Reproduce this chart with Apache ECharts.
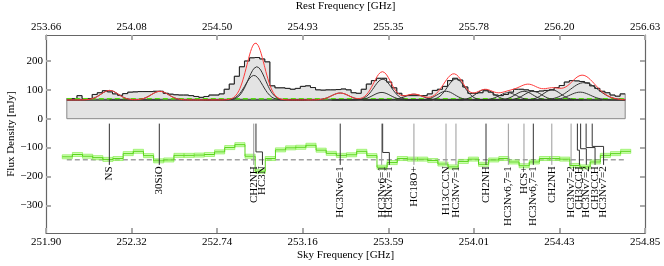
<!DOCTYPE html>
<html><head><meta charset="utf-8">
<script src="https://cdn.jsdelivr.net/npm/echarts@6/dist/echarts.min.js"></script>
<style>html,body{margin:0;padding:0;background:#fff}#c{width:664px;height:266px}</style>
</head><body><div id="c"></div>
<script>
// ---------- data ----------
const skyTicks = [251.9, 252.3214, 252.7429, 253.1643, 253.5857, 254.0071, 254.4286, 254.85];
const restTickLabels = ['253.66','254.08','254.50','254.93','255.35','255.78','256.20','256.63'];
const fluxTicks = [-300, -200, -100, 0, 100, 200];

// observed spectrum (step histogram), sky frequency bins
const specStart = 252.0025;
const specStep = 0.025;
const specValues = [70,70,80,70,70,84,90,97,93,86,
  81,87,92,93,94,94,94,95,95,88,
  85,83,82,82,80,77,74,77,82,82,
  86,102,120,147,180,200,211,212,207,197,
  114,107,107,105,102,105,112,114,108,100,
  99,100,100,101,103,100,90,88,102,120,
  132,140,140,127,107,88,80,80,80,80,
  80,86,98,102,112,132,140,134,110,88,
  88,90,97,92,82,80,84,92,102,102,
  100,97,94,96,98,100,108,115,127,132,
  131,129,124,114,105,95,90,82,78,86];
const continuum = 65;
const greenLevel = 69;

// gaussian components of the fit
const compCenter = [252.213,252.461,252.924,252.938,253.349,253.553,253.558,253.712,253.870,253.919,254.062,254.175,254.254,254.298,254.392,254.550,254.530];
const compAmp    = [33,30,85,115,24,26,72,20,30,73,36,25,30,30,35,60,27];
const compFwhm   = [0.10,0.10,0.10,0.10,0.10,0.10,0.10,0.10,0.10,0.10,0.10,0.10,0.10,0.10,0.10,0.16,0.12];

// residuals (offset)
const resStart = 251.98;
const resStep = 0.05;
const resValues = [-132,-124,-130,-135,-141,-138,-121,-113,-128,-146,
  -143,-127,-127,-126,-124,-115,-100,-90,-130,-182,
  -138,-108,-101,-99,-92,-109,-120,-127,-125,-113,
  -128,-168,-152,-138,-140,-140,-145,-157,-167,-148,
  -140,-158,-143,-138,-150,-163,-150,-138,-138,-140,
  -162,-167,-150,-127,-121,-113];
const resErr = 7;
const resZero = -142;

// line identifications
const lineNames = ['NS','30SiO','CH2NH','HC3N','HC3Nv6=1','HC3Nv6=1','HC3Nv7=1','HC18O+','H13CCCN','HC3Nv7=1',
  'CH2NH','HC3Nv6,7=1','HCS+','HC3Nv6,7=1','CH2NH','HC3Nv7=2','CH3CCH','HC3Nv7=2','CH3CCH','HC3Nv7=2'];
const lineFreq = [252.212,252.458,252.923,252.934,253.349,253.553,253.558,253.712,253.870,253.919,
  254.067,254.177,254.254,254.300,254.391,254.486,254.517,254.533,254.560,254.590];
const labelFreq = [252.212,252.458,252.923,252.966,253.349,253.553,253.591,253.712,253.870,253.919,
  254.067,254.177,254.254,254.300,254.391,254.486,254.527,254.561,254.604,254.646];
const leaderLevel = [null,null,null,-115,null,null,-117,null,null,null,
  null,null,null,null,null,null,-109,-104,-100,-96];

// ---------- style ----------
const markerDark = [1,1,0,1,1,0,1,0,0,0,1,0,0,1,0,0,1,1,1,1];
const FONT = '"Liberation Serif", "DejaVu Serif", serif';
const lineTop = -17, lineBottom = -160, labelTop = -165;

const specEnd = specStart + specValues.length * specStep;

function gauss(f, c, a, w) {
  const s = w / 2.3548;
  return a * Math.exp(-0.5 * ((f - c) / s) * ((f - c) / s));
}
const modelGrid = [];
for (let f = specStart; f <= specEnd + 1e-9; f += 0.0025) modelGrid.push(f);
const totalModel = modelGrid.map(f => {
  let v = continuum;
  for (let k = 0; k < compCenter.length; k++) v += gauss(f, compCenter[k], compAmp[k], compFwhm[k]);
  return [f, v];
});
const compSeries = compCenter.map((c, k) => ({
  type: 'line', showSymbol: false, silent: true, animation: false, z: 4,
  lineStyle: { color: '#333', width: 1 },
  data: modelGrid.filter(f => Math.abs(f - c) < 2.5 * compFwhm[k]).map(f => [f, continuum + gauss(f, c, compAmp[k], compFwhm[k])])
}));

function renderSpectrum(params, api) {
  const pts = [api.coord([specStart, 0])];
  for (let i = 0; i < specValues.length; i++) {
    const x0 = specStart + i * specStep, x1 = x0 + specStep;
    pts.push(api.coord([x0, specValues[i]]), api.coord([x1, specValues[i]]));
  }
  pts.push(api.coord([specEnd, 0]));
  const b0 = api.coord([specStart, continuum]), b1 = api.coord([specEnd, continuum]);
  const g0 = api.coord([specStart, greenLevel]), g1 = api.coord([specEnd, greenLevel]);
  return { type: 'group', children: [
    { type: 'polygon', shape: { points: pts }, style: { fill: '#e3e3e3', stroke: '#888', lineWidth: 1 } },
    { type: 'polyline', shape: { points: pts.slice(1, -1) }, style: { fill: null, stroke: '#222', lineWidth: 1 } },
    { type: 'line', shape: { x1: b0[0], y1: b0[1], x2: b1[0], y2: b1[1] }, style: { stroke: '#5a5a5a', lineWidth: 2.2 } },
    { type: 'line', shape: { x1: g0[0], y1: g0[1], x2: g1[0], y2: g1[1] }, style: { stroke: '#55dd11', lineWidth: 1.5, lineDash: [5, 3] } }
  ]};
}

function renderResidual(params, api) {
  const children = [];
  const z0 = api.coord([specStart, resZero]), z1 = api.coord([specEnd, resZero]);
  children.push({ type: 'line', shape: { x1: z0[0], y1: z0[1], x2: z1[0], y2: z1[1] }, style: { stroke: '#a0a0a0', lineWidth: 1.5, lineDash: [5, 3] } });
  const pts = [];
  for (let i = 0; i < resValues.length; i++) {
    const x0 = resStart + i * resStep, x1 = x0 + resStep, v = resValues[i];
    const a = api.coord([x0, v + resErr]), b = api.coord([x1, v - resErr]);
    children.push({ type: 'rect', shape: { x: a[0], y: a[1], width: b[0] - a[0], height: b[1] - a[1] },
      style: { fill: 'rgba(175,255,130,0.6)', stroke: 'rgba(120,235,60,0.75)', lineWidth: 0.8 } });
    pts.push(api.coord([x0, v]), api.coord([x1, v]));
  }
  children.push({ type: 'polyline', shape: { points: pts }, style: { fill: null, stroke: '#5ad41c', lineWidth: 1 } });
  return { type: 'group', children };
}

function renderMarker(params, api) {
  const i = params.dataIndex;
  const f = lineFreq[i], lf = labelFreq[i];
  const col = markerDark[i] ? '#333' : '#9a9a9a';
  let pts;
  if (leaderLevel[i] !== null) {
    pts = [api.coord([f, lineTop]), api.coord([f, leaderLevel[i]]), api.coord([lf, leaderLevel[i]]), api.coord([lf, lineBottom])];
  } else {
    pts = [api.coord([f, lineTop]), api.coord([f, lineBottom])];
  }
  const lp = api.coord([lf, labelTop]);
  return { type: 'group', children: [
    { type: 'polyline', shape: { points: pts }, style: { fill: null, stroke: col, lineWidth: 1 } },
    { type: 'text', x: lp[0], y: lp[1], rotation: Math.PI / 2,
      style: { text: lineNames[i], font: '11px ' + FONT, fill: '#000', align: 'right', verticalAlign: 'middle' } }
  ]};
}

const axisCommon = {
  axisLine: { show: true, onZero: false, lineStyle: { color: '#666', width: 1.2 } },
  splitLine: { show: false }
};
const tickStyle = { inside: true, length: 5, lineStyle: { color: '#aaa', width: 2 } };
const labelStyle = { color: '#000', fontFamily: FONT, fontSize: 11 };
const nameStyle = { color: '#000', fontFamily: FONT, fontSize: 11 };

const chart = echarts.init(document.getElementById('c'), null, { renderer: 'canvas' });
chart.setOption({
  animation: false,
  grid: { left: 46, right: 19, top: 35, bottom: 33, containLabel: false, outerBoundsMode: 'none' },
  xAxis: [
    Object.assign({ type: 'value', position: 'bottom', min: 251.9, max: 254.85,
      name: 'Sky Frequency [GHz]', nameLocation: 'middle', nameGap: 17, nameMoveOverlap: false, nameTextStyle: nameStyle,
      axisTick: Object.assign({ customValues: skyTicks }, tickStyle),
      axisLabel: Object.assign({ customValues: skyTicks, margin: 4, formatter: v => v.toFixed(2) }, labelStyle)
    }, axisCommon),
    Object.assign({ type: 'value', position: 'top', min: 0, max: restTickLabels.length - 1,
      name: 'Rest Frequency [GHz]', nameLocation: 'middle', nameGap: 23, nameMoveOverlap: false, nameTextStyle: nameStyle,
      axisTick: Object.assign({ customValues: restTickLabels.map((_, i) => i) }, tickStyle),
      axisLabel: Object.assign({ customValues: restTickLabels.map((_, i) => i), margin: 2, formatter: v => restTickLabels[Math.round(v)] }, labelStyle)
    }, axisCommon)
  ],
  yAxis: [
    Object.assign({ type: 'value', position: 'left', min: -396, max: 290,
      name: 'Flux Density [mJy]', nameLocation: 'middle', nameGap: 29, nameMoveOverlap: false, nameRotate: 90, nameTextStyle: nameStyle,
      axisTick: Object.assign({ customValues: fluxTicks }, tickStyle),
      axisLabel: Object.assign({ customValues: fluxTicks, margin: 3, formatter: v => String(v).replace('-', '\u2212') }, labelStyle)
    }, axisCommon),
    Object.assign({ type: 'value', position: 'right', min: -396, max: 290,
      axisTick: Object.assign({ customValues: fluxTicks }, tickStyle),
      axisLabel: { show: false }
    }, axisCommon)
  ],
  series: [
    { type: 'custom', renderItem: renderSpectrum, data: [[252.5, 0]], z: 2, silent: true },
    ...compSeries,
    { type: 'line', showSymbol: false, silent: true, z: 5, lineStyle: { color: '#ff3b3b', width: 1 }, data: totalModel },
    { type: 'custom', renderItem: renderResidual, data: [[252.5, -140]], z: 2, silent: true },
    { type: 'custom', renderItem: renderMarker, data: lineFreq.map((f, i) => [f, lineTop, i]), z: 6, silent: true }
  ]
});
</script>
</body></html>
